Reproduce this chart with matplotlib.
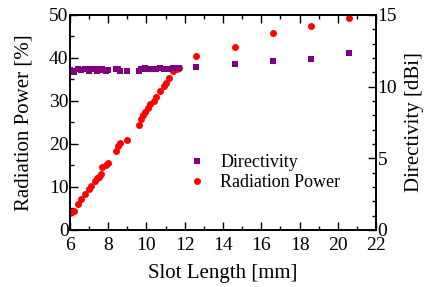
import matplotlib.pyplot as plt
from matplotlib.ticker import MultipleLocator

plt.rcParams['font.family'] = ['Liberation Serif', 'DejaVu Serif']
plt.rcParams['mathtext.fontset'] = 'stix'

# dane
slot_length = [6.0, 6.1, 6.2, 6.4, 6.6, 6.8, 7.0, 7.1, 7.3, 7.4, 7.5, 7.6, 7.7,
               7.9, 8.0, 8.4, 8.5, 8.6, 9.0, 9.6, 9.7, 9.8, 9.9, 10.1, 10.2,
               10.4, 10.5, 10.7, 10.9, 11.0, 11.2, 11.4, 11.6, 11.7,
               12.6, 14.6, 16.6, 18.6, 20.6]
radiation_power = [4.0, 4.1, 4.3, 6.0, 7.2, 8.3, 9.6, 10.3, 11.3, 12.0, 12.4,
                   13.0, 14.6, 15.0, 15.5, 18.4, 19.5, 20.3, 21.0, 24.5, 25.8,
                   26.8, 27.5, 28.3, 29.2, 30.0, 31.0, 32.2, 33.5, 34.2, 35.3,
                   37.0, 37.4, 37.6, 40.5, 42.6, 45.7, 47.4, 49.2]
directivity = [11.15, 11.1, 11.05, 11.2, 11.15, 11.25, 11.1, 11.2, 11.25, 11.1,
               11.2, 11.15, 11.2, 11.1, 11.15, 11.25, 11.2, 11.1, 11.1, 11.1,
               11.25, 11.2, 11.3, 11.2, 11.25, 11.2, 11.2, 11.3, 11.25, 11.2,
               11.25, 11.3, 11.3, 11.3, 11.4, 11.6, 11.77, 11.95, 12.35]

fig = plt.figure(figsize=(4.24, 2.87), dpi=100)
ax = fig.add_axes([0.165, 0.199, 0.722, 0.749])
ax2 = ax.twinx()

p1, = ax2.plot(slot_length, directivity, 's', color='#800080', markersize=4.3,
               markeredgewidth=0, label='Directivity')
p2, = ax.plot(slot_length, radiation_power, 'o', color='#ff0000', markersize=5,
              markeredgewidth=0, label='Radiation Power')

ax.set_xlim(6, 22)
ax.set_ylim(0, 50)
ax2.set_ylim(0, 15)

ax.xaxis.set_major_locator(MultipleLocator(2))
ax.xaxis.set_minor_locator(MultipleLocator(1))
ax.yaxis.set_major_locator(MultipleLocator(10))
ax.yaxis.set_minor_locator(MultipleLocator(5))
ax2.yaxis.set_major_locator(MultipleLocator(5))
ax2.yaxis.set_minor_locator(MultipleLocator(1))

ax.tick_params(which='both', direction='in', top=True, right=False, labelsize=14, pad=1)
ax.tick_params(axis='x', which='both', pad=5)
ax.tick_params(which='major', length=6, width=1)
ax.tick_params(which='minor', length=3, width=1)
ax2.tick_params(which='both', direction='in', labelsize=14, pad=1)
ax2.tick_params(which='major', length=6, width=1)
ax2.tick_params(which='minor', length=3, width=1)

for a in (ax, ax2):
    for s in a.spines.values():
        s.set_linewidth(1.2)

ax.set_xlabel('Slot Length [mm]', fontsize=15, labelpad=7)
ax.set_ylabel('Radiation Power [%]', fontsize=15, labelpad=11)
ax2.set_ylabel('Directivity [dBi]', fontsize=15, labelpad=6)

ax2.legend([p1, p2], ['Directivity', 'Radiation Power'], loc='center left',
           bbox_to_anchor=(0.379, 0.267), frameon=False, fontsize=13,
           handletextpad=0.7, labelspacing=0.15, borderpad=0, borderaxespad=0,
           handlelength=1.2)

fig.savefig('out.png', dpi=100)
